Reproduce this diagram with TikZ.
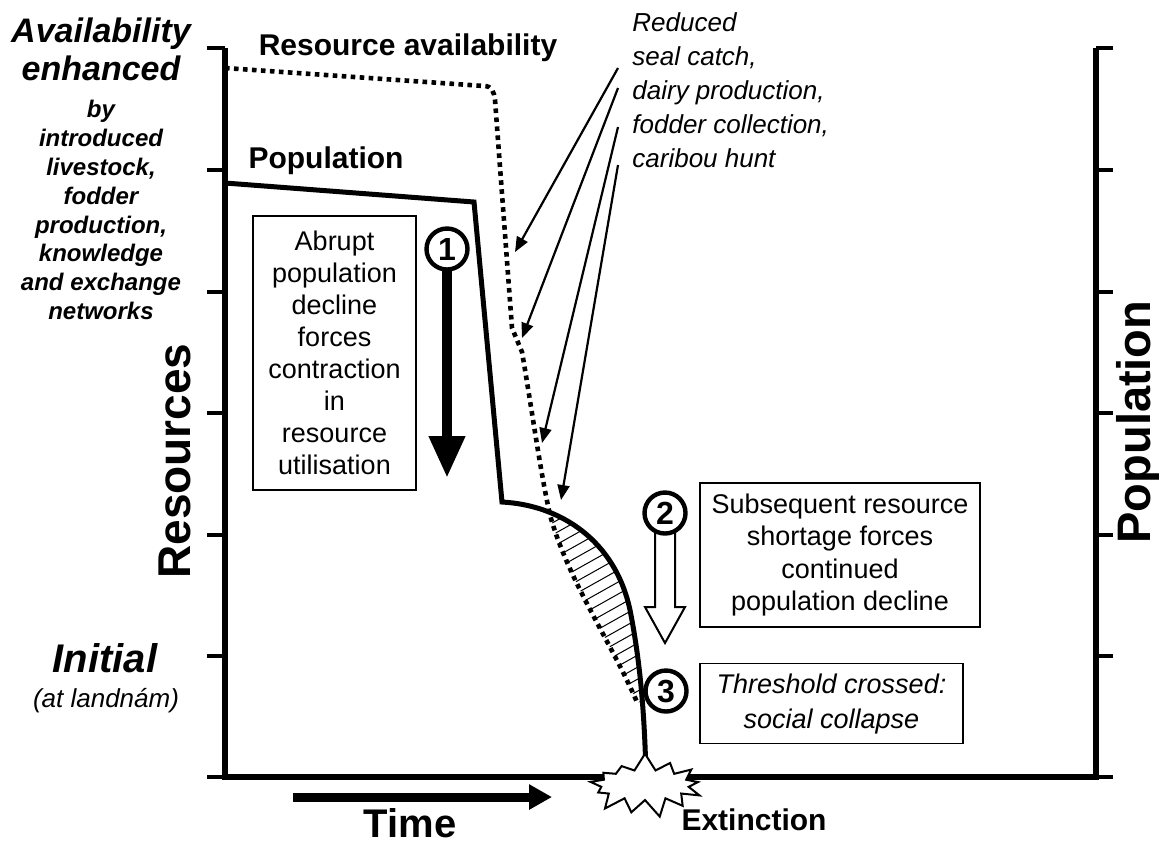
\documentclass[tikz,border=0pt]{standalone}
\usepackage{fontspec}
\setmainfont{Liberation Sans}
\usetikzlibrary{arrows.meta,positioning,calc,shapes.symbols}

\begin{document}
\begin{tikzpicture}[x=0.5pt,y=-0.5pt,
  axisline/.style={line width=2.9pt,line join=miter},
  tickmark/.style={line width=2.2pt},
  popline/.style={line width=2.5pt,line join=miter},
  resline/.style={line width=2.3pt,dash pattern=on 2.3pt off 2.2pt},
  hatchline/.style={line width=0.5pt},
  pointer/.style={-{Triangle[length=7.5pt,width=6pt]},line width=1.1pt},
  stepnum/.style={circle,draw,fill=white,line width=2.2pt,minimum size=20.5pt,inner sep=0pt,
    font=\bfseries\fontsize{16}{16}\selectfont},
  textbox/.style={draw,line width=0.8pt,align=center,inner sep=2pt},
  lbl/.style={font=\bfseries\fontsize{15}{18}\selectfont}]
\useasboundingbox (0,0) rectangle (1159,843);
% hatched gap between the two curves
\begin{scope}
  \clip (502,502) .. controls (560,505) and (615,540) .. (630,610)
    .. controls (642,670) and (645,730) .. (646,775) -- (502,775) -- cycle;
  \clip (550,515) .. controls (568,580) and (610,640) .. (637,702)
    -- (700,702) -- (700,490) -- (550,490) -- cycle;
  \foreach \k in {0,...,24}
    \draw[hatchline] (520,505+12*\k) -- ++(200,-112);
\end{scope}
% axes
\draw[axisline] (225,48) -- (225,777) -- (1096,777) -- (1096,48);
\foreach \ty in {48,170,292,413,535,656,777} {
  \draw[tickmark] (207,\ty) -- (225,\ty);
  \draw[tickmark] (1096,\ty) -- (1113,\ty);
}
% curves
\draw[resline] (225,68) -- (484,86) .. controls (492,86) and (494,92) .. (495,100)
  -- (512,328) -- (522,352) .. controls (532,410) and (540,470) .. (550,515)
  .. controls (568,580) and (610,640) .. (637,702);
\draw[popline] (225,183) -- (474,202) -- (502,502)
  .. controls (560,505) and (615,540) .. (630,610)
  .. controls (642,670) and (645,730) .. (646,778);
\node[starburst,draw,fill=white,line width=1pt,minimum width=62pt,minimum height=33pt,
  starburst points=13,starburst point height=9pt,random starburst=7] (boom) at (645,785) {};
\node[lbl,anchor=base] (ext) at (754,830) {Extinction};
% curve labels
\node[lbl,anchor=base] (reslbl) at (408,55) {Resource availability};
\node[lbl,anchor=base] (poplbl) at (326,168) {Population};
% axis labels
\node[font=\bfseries\itshape\fontsize{17}{19}\selectfont,align=center,inner sep=0pt,anchor=north]
  (enh) at (101,17) {Availability\\enhanced};
\node[font=\bfseries\itshape\fontsize{12}{14.4}\selectfont,align=center,inner sep=0pt,anchor=north]
  (means) at (101,100) {by\\introduced\\livestock,\\fodder\\production,\\knowledge\\and exchange\\networks};
\node[font=\bfseries\itshape\fontsize{20}{24}\selectfont,anchor=base] (init) at (105,672) {Initial};
\node[font=\itshape\fontsize{13}{16}\selectfont,anchor=base] (landnam) at (106,707) {(at landnám)};
\node[font=\bfseries\fontsize{23}{28}\selectfont,rotate=90] (resources) at (175,461) {Resources};
\node[font=\bfseries\fontsize{23.5}{28}\selectfont,rotate=90] (population) at (1138,422) {Population};
\node[font=\bfseries\fontsize{20}{24}\selectfont,anchor=base] (time) at (410,837) {Time};
\coordinate (t0) at (293,797);
\coordinate (t1) at (552,797);
\draw[-{Triangle[length=11.5pt,width=12pt]},line width=4.5pt] (t0) -- (t1);
% step 1
\coordinate (c1) at (447,249);
\coordinate (tip1) at (447,478);
\draw[-{Triangle[length=21pt,width=17pt]},line width=5pt] (c1) -- (tip1);
\node[stepnum] (n1) at (c1) {1};
\node[textbox,minimum width=81.5pt,minimum height=137pt,font=\fontsize{13.5}{16}\selectfont]
  (box1) at (334.5,353) {Abrupt\\population\\decline\\forces\\contraction\\in\\resource\\utilisation};
% step 2
\coordinate (c2) at (665,513);
\draw[line width=1pt,fill=white] (c2) ++(-10,0) -- ++(0,94) -- ++(-10,0) -- ++(20,36)
  -- ++(20,-36) -- ++(-10,0) -- ++(0,-94);
\node[stepnum] (n2) at (c2) {2};
\node[textbox,minimum width=140pt,minimum height=72pt,font=\fontsize{13.5}{16.3}\selectfont]
  (box2) at (840,555) {Subsequent resource\\shortage forces\\continued\\population decline};
% step 3
\node[stepnum] (n3) at (666,691) {3};
\node[textbox,minimum width=131.5pt,minimum height=40pt,font=\itshape\fontsize{13.5}{17.5}\selectfont,
  below=17.5pt of box2.south west,anchor=north west] (box3) {Threshold crossed:\\social collapse};
% causes pointing at the resource curve
\node[font=\itshape\fontsize{13}{17}\selectfont,align=left,inner sep=0pt,anchor=north west]
  (cause) at (632,12) {Reduced\\seal catch,\\dairy production,\\fodder collection,\\caribou hunt};
\coordinate (hit1) at (515,252);
\coordinate (hit2) at (522,338);
\coordinate (hit3) at (542,443);
\coordinate (hit4) at (561,500);
\draw[pointer] ($(cause.north west)+(-14,56)$) -- (hit1);
\draw[pointer] ($(cause.north west)+(-14,76)$) -- (hit2);
\draw[pointer] ($(cause.north west)+(-14,115)$) -- (hit3);
\draw[pointer] ($(cause.north west)+(-14,153)$) -- (hit4);
\end{tikzpicture}
\end{document}
